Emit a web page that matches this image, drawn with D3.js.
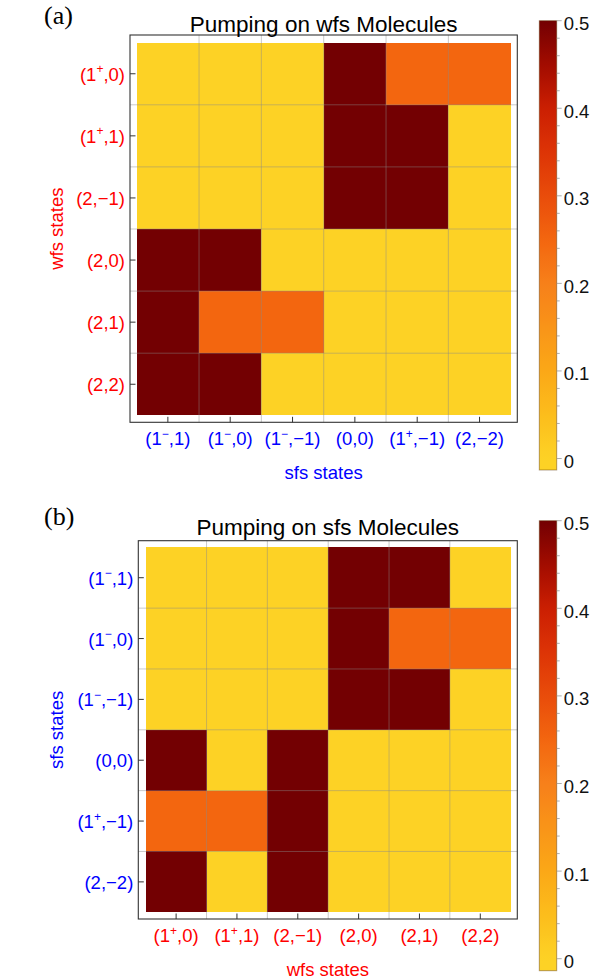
<!DOCTYPE html>
<html>
<head>
<meta charset="utf-8">
<script src="https://cdn.jsdelivr.net/npm/d3@7"></script>
<style>
  html, body { margin: 0; padding: 0; background: #fff; }
  svg { display: block; }
</style>
</head>
<body>
<svg id="chart" width="602" height="980"></svg>
<script>
// ---------------- data ----------------
const wfsStates = ["(1⁺,0)", "(1⁺,1)", "(2,−1)", "(2,0)", "(2,1)", "(2,2)"];
const sfsStates = ["(1⁻,1)", "(1⁻,0)", "(1⁻,−1)", "(0,0)", "(1⁺,−1)", "(2,−2)"];

// Panel (a): rows = wfs states (top→bottom), columns = sfs states
const pumpingWfs = [
  [0,   0,    0,    0.5, 0.25, 0.25],
  [0,   0,    0,    0.5, 0.5,  0   ],
  [0,   0,    0,    0.5, 0.5,  0   ],
  [0.5, 0.5,  0,    0,   0,    0   ],
  [0.5, 0.25, 0.25, 0,   0,    0   ],
  [0.5, 0.5,  0,    0,   0,    0   ]
];
// Panel (b): rows = sfs states (top→bottom), columns = wfs states
const pumpingSfs = [
  [0,    0,    0,   0.5, 0.5,  0   ],
  [0,    0,    0,   0.5, 0.25, 0.25],
  [0,    0,    0,   0.5, 0.5,  0   ],
  [0.5,  0,    0.5, 0,   0,    0   ],
  [0.25, 0.25, 0.5, 0,   0,    0   ],
  [0.5,  0,    0.5, 0,   0,    0   ]
];
const colorbarTicks = [0, 0.1, 0.2, 0.3, 0.4, 0.5];
const colorStopValues = [0, 0.05, 0.1, 0.15, 0.2, 0.25, 0.3, 0.35, 0.4, 0.45, 0.5];
const colorStopColors = ["#fdd225", "#fcbd1c", "#fba817", "#f99418", "#f7801a", "#f3660f",
                         "#e94c0a", "#dd3406", "#cb1f02", "#a20c00", "#730002"];

// ---------------- helpers ----------------
const svg = d3.select("#chart");
const FONT = "'Liberation Sans', Arial, sans-serif";
const SERIF = "'Liberation Serif', 'Times New Roman', serif";
const RED = "#ff0000", BLUE = "#0000ff";

const color = d3.scaleLinear()
  .domain(colorStopValues)
  .range(colorStopColors)
  .interpolate(d3.interpolateRgb)
  .clamp(true);

// write label with superscript +/− as tspans
function richText(sel, label, supSize, supShift) {
  const parts = [];
  let cur = "";
  for (const ch of label) {
    if (ch === "⁺" || ch === "⁻") {
      if (cur) parts.push({t: cur, sup: false});
      parts.push({t: ch === "⁺" ? "+" : "−", sup: true});
      cur = "";
    } else cur += ch;
  }
  if (cur) parts.push({t: cur, sup: false});
  let prevSup = false;
  parts.forEach(p => {
    const ts = sel.append("tspan").text(p.t);
    if (p.sup) { ts.attr("font-size", supSize).attr("dy", -supShift); }
    else if (prevSup) { ts.attr("dy", supShift); }
    prevSup = p.sup;
  });
}

function panel(cfg) {
  const g = svg.append("g");
  const x = d3.scaleBand().domain(cfg.cols).range([cfg.cx0, cfg.cx1]).padding(0);
  const y = d3.scaleBand().domain(cfg.rows).range([cfg.cy0, cfg.cy1]).padding(0);

  // cells
  const cells = [];
  cfg.values.forEach((row, i) => row.forEach((v, j) => cells.push({r: cfg.rows[i], c: cfg.cols[j], v})));
  g.selectAll("rect.cell").data(cells).enter().append("rect")
    .attr("class", "cell")
    .attr("x", d => x(d.c)).attr("y", d => y(d.r))
    .attr("width", x.bandwidth()).attr("height", y.bandwidth())
    .attr("fill", d => color(d.v))
    .attr("shape-rendering", "crispEdges");

  // grid lines (full frame extent)
  const xb = x.domain().slice(1).map(d => x(d));
  const yb = y.domain().slice(1).map(d => y(d));
  g.selectAll("line.gx").data(xb).enter().append("line")
    .attr("x1", d => d).attr("x2", d => d)
    .attr("y1", cfg.fy0).attr("y2", cfg.fy1)
    .attr("stroke", "#8a8a8a").attr("stroke-opacity", 0.45).attr("stroke-width", 1);
  g.selectAll("line.gy").data(yb).enter().append("line")
    .attr("y1", d => d).attr("y2", d => d)
    .attr("x1", cfg.fx0).attr("x2", cfg.fx1)
    .attr("stroke", "#8a8a8a").attr("stroke-opacity", 0.45).attr("stroke-width", 1);

  // frame
  g.append("rect")
    .attr("x", cfg.fx0).attr("y", cfg.fy0)
    .attr("width", cfg.fx1 - cfg.fx0).attr("height", cfg.fy1 - cfg.fy0)
    .attr("fill", "none").attr("stroke", "#333").attr("stroke-width", 1.1);

  // ticks (inward)
  const half = x.bandwidth() / 2, halfY = y.bandwidth() / 2;
  g.selectAll("line.tx").data(cfg.cols).enter().append("line")
    .attr("x1", d => x(d) + half).attr("x2", d => x(d) + half)
    .attr("y1", cfg.fy1).attr("y2", cfg.fy1 - 5.5)
    .attr("stroke", "#333").attr("stroke-width", 1);
  g.selectAll("line.ty").data(cfg.rows).enter().append("line")
    .attr("y1", d => y(d) + halfY).attr("y2", d => y(d) + halfY)
    .attr("x1", cfg.fx0).attr("x2", cfg.fx0 + 5.5)
    .attr("stroke", "#333").attr("stroke-width", 1);

  // tick labels
  cfg.cols.forEach(c => {
    const t = g.append("text")
      .attr("x", x(c) + half).attr("y", cfg.fy1 + 23)
      .attr("text-anchor", "middle")
      .attr("font-family", FONT).attr("font-size", 18.5)
      .attr("fill", cfg.colColor);
    richText(t, c, 12, 7.5);
  });
  cfg.rows.forEach(r => {
    const t = g.append("text")
      .attr("x", cfg.fx0 - 5).attr("y", y(r) + halfY + 7)
      .attr("text-anchor", "end")
      .attr("font-family", FONT).attr("font-size", 18.5)
      .attr("fill", cfg.rowColor);
    richText(t, r, 12, 7.5);
  });

  // axis titles
  g.append("text")
    .attr("x", (cfg.fx0 + cfg.fx1) / 2).attr("y", cfg.fy1 + 56.5)
    .attr("text-anchor", "middle")
    .attr("font-family", FONT).attr("font-size", 18.5)
    .attr("fill", cfg.colColor).text(cfg.xTitle);
  g.append("text")
    .attr("transform", `translate(63,${(cfg.fy0 + cfg.fy1) / 2}) rotate(-90)`)
    .attr("text-anchor", "middle")
    .attr("font-family", FONT).attr("font-size", 18.5)
    .attr("fill", cfg.rowColor).text(cfg.yTitle);

  // title
  g.append("text")
    .attr("x", (cfg.fx0 + cfg.fx1) / 2).attr("y", cfg.titleY)
    .attr("text-anchor", "middle")
    .attr("font-family", FONT).attr("font-size", 22.5)
    .attr("fill", "#000").text(cfg.title);

  // panel letter
  g.append("text")
    .attr("x", 44).attr("y", cfg.letterY)
    .attr("font-family", SERIF).attr("font-size", 26)
    .attr("fill", "#000").text(cfg.letter);

  // colorbar
  const cb = cfg.cb;
  const cbScale = d3.scaleLinear().domain([0, 0.5]).range([cb.zeroY, cb.top]);
  const lowVal = cbScale.invert(cb.bottom);
  const gradId = "grad" + cfg.letter.replace(/\W/g, "");
  const grad = svg.append("defs").append("linearGradient")
    .attr("id", gradId).attr("x1", 0).attr("x2", 0).attr("y1", 1).attr("y2", 0);
  const nStops = 50;
  d3.range(nStops + 1).forEach(i => {
    const v = lowVal + (0.5 - lowVal) * i / nStops;
    grad.append("stop").attr("offset", i / nStops).attr("stop-color", color(v));
  });
  g.append("rect")
    .attr("x", cb.x0).attr("y", cb.top)
    .attr("width", cb.x1 - cb.x0).attr("height", cb.bottom - cb.top)
    .attr("fill", `url(#${gradId})`)
    .attr("stroke", "rgba(90,50,0,0.45)").attr("stroke-width", 1);
  const minor = d3.range(0, 0.5001, 0.02);
  g.selectAll("line.cbm").data(minor).enter().append("line")
    .attr("x1", cb.x1).attr("x2", d => cb.x1 + (Math.abs(d * 10 - Math.round(d * 10)) < 1e-6 ? 5 : 3))
    .attr("y1", d => cbScale(d)).attr("y2", d => cbScale(d))
    .attr("stroke", "#999").attr("stroke-width", 0.8);
  g.selectAll("text.cbl").data(colorbarTicks).enter().append("text")
    .attr("x", cb.x1 + 7).attr("y", d => cbScale(d) + 9.5)
    .attr("font-family", FONT).attr("font-size", 18.5)
    .attr("fill", "#111")
    .text(d => String(d));
}

panel({
  rows: wfsStates, cols: sfsStates, values: pumpingWfs,
  rowColor: RED, colColor: BLUE,
  xTitle: "sfs states", yTitle: "wfs states",
  title: "Pumping on wfs Molecules", titleY: 31.5,
  letter: "(a)", letterY: 24,
  fx0: 130, fx1: 517.3, fy0: 35, fy1: 422.3,
  cx0: 136.7, cx1: 510.7, cy0: 42.7, cy1: 415.3,
  cb: {x0: 539.3, x1: 556.7, top: 20.7, bottom: 470, zeroY: 458.5}
});

panel({
  rows: sfsStates, cols: wfsStates, values: pumpingSfs,
  rowColor: BLUE, colColor: RED,
  xTitle: "wfs states", yTitle: "sfs states",
  title: "Pumping on sfs Molecules", titleY: 535,
  letter: "(b)", letterY: 524.5,
  fx0: 138.3, fx1: 517.3, fy0: 540.7, fy1: 919,
  cx0: 145.7, cx1: 510.7, cy0: 547.3, cy1: 912.3,
  cb: {x0: 539.3, x1: 556.7, top: 520.7, bottom: 970.7, zeroY: 958.7}
});
</script>
</body>
</html>
